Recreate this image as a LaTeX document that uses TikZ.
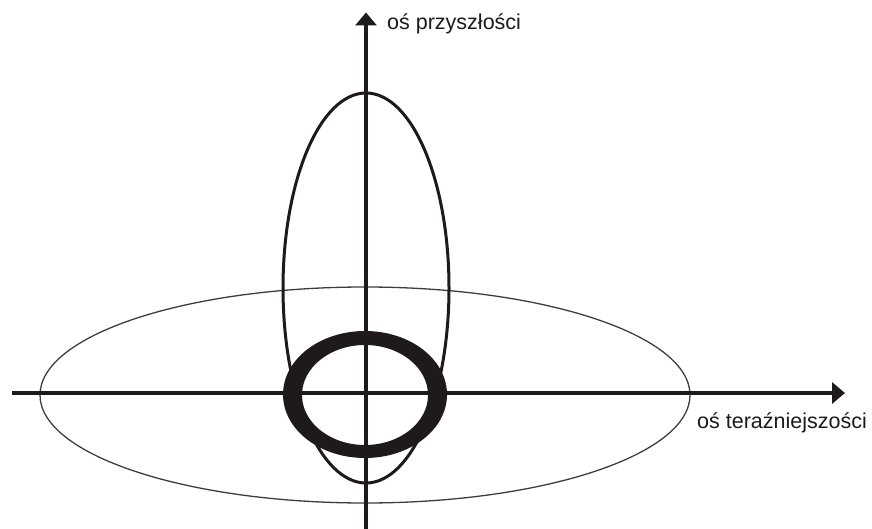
\documentclass[tikz,border=0pt]{standalone}
\usepackage{fontspec}
\setmainfont{Liberation Sans}
\usetikzlibrary{arrows.meta}
\definecolor{ink}{RGB}{30,26,26}
\tikzset{
  axis/.style={draw=ink, line width=3.8pt, -{Triangle[length=13pt,width=21pt]}},
  axislabel/.style={anchor=base west, inner sep=0pt, font=\fontsize{21.5}{26}\selectfont, text=ink},
  tallell/.style={draw=ink, line width=3pt},
  wideell/.style={draw=ink!85, line width=1.3pt},
  ring/.style={fill=ink, even odd rule}
}
\begin{document}
\begin{tikzpicture}[x=1pt,y=-1pt]
\useasboundingbox (0,0) rectangle (872,529);
% ellipses
\draw[wideell] (365,395) ellipse [x radius=325, y radius=108];
\draw[tallell] (366,288) ellipse [x radius=83, y radius=195];
\fill[ring] (365,394.5) ellipse [x radius=82, y radius=63.5]
            (365,395) ellipse [x radius=63, y radius=50];
% axes
\coordinate (xs) at (12,393);
\coordinate (xe) at (845,393);
\coordinate (ys) at (366,529);
\coordinate (ye) at (366,12.5);
\draw[axis] (xs) -- (xe);
\draw[axis] (ys) -- (ye);
% labels
\node[axislabel] (ly) at (387,30) {oś przyszłości};
\node[axislabel] (lx) at (697,428) {oś teraźniejszości};
\end{tikzpicture}
\end{document}
